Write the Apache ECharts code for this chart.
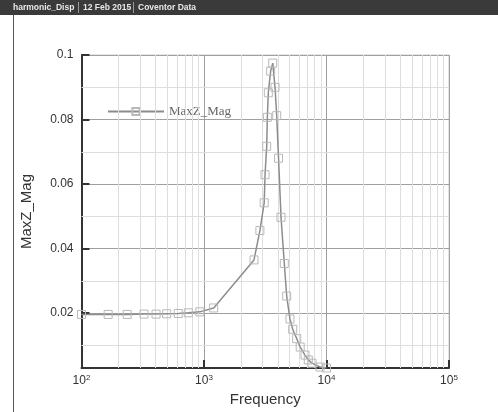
<!DOCTYPE html>
<html><head><meta charset="utf-8">
<script src="https://cdn.jsdelivr.net/npm/echarts@6/dist/echarts.min.js"></script>
<style>html,body{margin:0;padding:0;background:#fff}#c{width:498px;height:412px}</style>
</head><body><div id="c"></div>
<script>
const frequency = [100,165,236,324,406,496,616,744,925,1200,2560,2860,3100,3150,3250,3290,3350,3500,3640,3800,3922,4060,4253,4524,4732,5030,5300,5713,6100,6675,7100,7615,8850,10000];
const maxZMag = [0.0196,0.0196,0.0196,0.0197,0.0197,0.0198,0.0199,0.0201,0.0204,0.0216,0.0365,0.0456,0.0542,0.0629,0.0717,0.0807,0.0883,0.0950,0.0975,0.0900,0.0812,0.0680,0.0497,0.0354,0.0253,0.0182,0.0150,0.0121,0.0095,0.0070,0.0055,0.0045,0.0033,0.0030];
const xMinorGrid = [200,300,400,500,600,700,800,900,2000,3000,4000,5000,6000,7000,8000,9000,20000,30000,40000,50000,60000,70000,80000,90000];
const yMinorGrid = [0.01,0.03,0.05,0.07,0.09];
const yTickLabels = [0.02,0.04,0.06,0.08,0.1];
const headerItems = ['harmonic_Disp','12 Feb 2015','Coventor Data'];

const chart = echarts.init(document.getElementById('c'), null, {renderer:'canvas'});
const headerX = [13, 83, 138];
const graphics = [
  {type:'rect', shape:{x:0,y:0,width:498,height:15}, style:{fill:'#3a3a3a'}, z:10},
  {type:'line', shape:{x1:13.5,y1:15,x2:13.5,y2:412}, style:{stroke:'#555',lineWidth:1}, z:10},
  {type:'line', shape:{x1:78.5,y1:2,x2:78.5,y2:13}, style:{stroke:'#999',lineWidth:1}, z:11},
  {type:'line', shape:{x1:133.5,y1:2,x2:133.5,y2:13}, style:{stroke:'#999',lineWidth:1}, z:11}
];
headerItems.forEach((t,i)=>graphics.push({type:'text', x:headerX[i], y:8, z:11,
  style:{text:t, fill:'#e8e8e8', font:'bold 8.5px "Liberation Sans", Arial, sans-serif', verticalAlign:'middle'}}));

chart.setOption({
  animation:false,
  backgroundColor:'#fff',
  graphic: graphics,
  grid:{left:81.5, right:49, top:55, bottom:39, show:true, borderColor:'#c8c8c8', borderWidth:1},
  legend:{
    left:102, top:100, itemWidth:56, itemHeight:9, itemGap:8,
    textStyle:{fontFamily:'"Liberation Serif", serif', fontSize:13, color:'#666'},
    data:['MaxZ_Mag']
  },
  xAxis:{
    type:'log', logBase:10, min:100, max:100000,
    name:'Frequency', nameLocation:'middle', nameGap:24,
    nameTextStyle:{fontFamily:'"Liberation Sans", Arial, sans-serif', fontSize:15, color:'#333'},
    axisLine:{show:true, onZero:false, lineStyle:{color:'#333', width:2}},
    axisTick:{show:true, inside:true, length:8, lineStyle:{color:'#333', width:2}},
    axisLabel:{
      margin:6, color:'#333',
      formatter:function(v){ const e=Math.round(Math.log10(v)); return '{b|10}{s|'+e+'}'; },
      rich:{b:{fontSize:12, fontFamily:'"Liberation Sans", Arial, sans-serif', color:'#333'},
            s:{fontSize:8, fontFamily:'"Liberation Sans", Arial, sans-serif', color:'#333', verticalAlign:'top', padding:[0,0,6,0]}}
    },
    splitLine:{show:true, lineStyle:{color:'#a0a0a0', width:1}}
  },
  yAxis:{
    type:'value', min:0.003, max:0.1,
    name:'MaxZ_Mag', nameLocation:'middle', nameGap:47,
    nameTextStyle:{fontFamily:'"Liberation Sans", Arial, sans-serif', fontSize:15, color:'#333'},
    axisLine:{show:true, onZero:false, lineStyle:{color:'#333', width:2}},
    axisTick:{show:true, inside:true, length:8, lineStyle:{color:'#333', width:2}},
    axisLabel:{
      margin:8, color:'#333', fontSize:12, fontFamily:'"Liberation Sans", Arial, sans-serif',
      formatter:function(v){ const r=Math.round(v*100)/100; return yTickLabels.some(t=>Math.abs(t-v)<1e-9) ? String(r) : ''; }
    },
    splitLine:{show:true, lineStyle:{color:'#a0a0a0', width:1}}
  },
  series:[
    {
      type:'line', name:'grid', silent:true, data:[], z:1,
      markLine:{silent:true, symbol:'none', label:{show:false},
        lineStyle:{color:'#dedede', type:'solid', width:1},
        data: xMinorGrid.map(v=>({xAxis:v})).concat(yMinorGrid.map(v=>({yAxis:v})))}
    },
    {
      type:'line', name:'MaxZ_Mag', z:5,
      data: frequency.map((f,i)=>[f, maxZMag[i]]),
      symbol:'rect', symbolSize:8, showSymbol:true, showAllSymbol:true,
      itemStyle:{color:'rgba(255,255,255,0)', borderColor:'#b8b8b8', borderWidth:1},
      lineStyle:{color:'#8c8c8c', width:1.5}
    }
  ]
});
</script></body></html>
